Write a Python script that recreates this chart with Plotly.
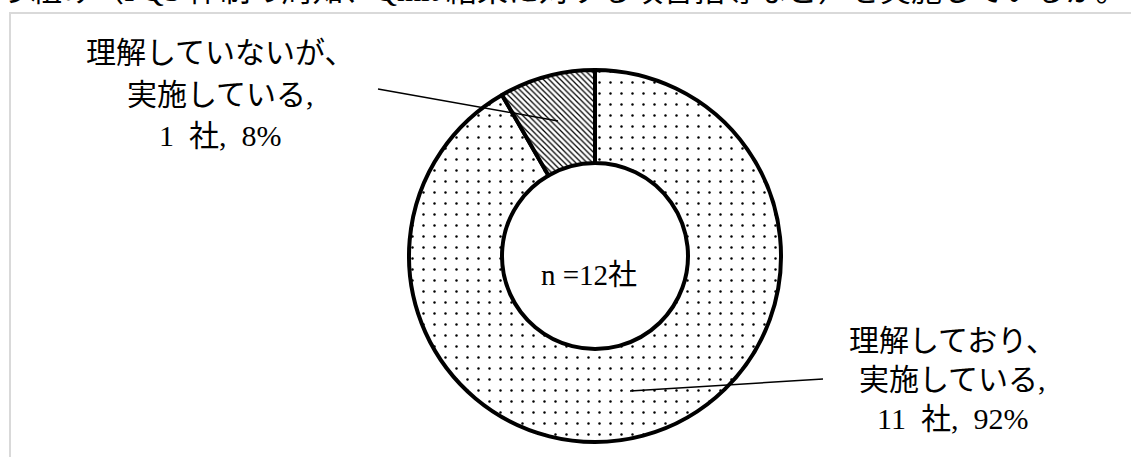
import plotly.graph_objects as go

# ---- data ----
categories = ["理解しており、実施している", "理解していないが、実施している"]
companies = [11, 1]
percents = [92, 8]
label_lines = [
    ["理解しており、", "実施している,", "11  社,  92%"],
    ["理解していないが、", "実施している,", "1  社,  8%"],
]
center_text = "n =12社"
header_text = "う組み（PQS 体制の周知、Qmit 結果に対する改善指導など）を実施しているか。"
patterns = [".", "\\"]

W, H = 1131, 457
FONT = "Liberation Serif, Noto Sans CJK JP, serif"


def px(x):
    return x / W


def py(y):
    return 1 - y / H


fig = go.Figure()

cx, cy, r = 595, 256, 186
fig.add_trace(go.Pie(
    values=companies,
    labels=categories,
    sort=False,
    direction="clockwise",
    rotation=0,
    hole=0.5,
    textinfo="none",
    hoverinfo="label+value+percent",
    showlegend=False,
    marker=dict(
        colors=["white", "white"],
        line=dict(color="black", width=4),
        pattern=dict(shape=patterns, fgcolor="black", bgcolor="white",
                     size=[11, 4], solidity=[0.04, 0.32]),
    ),
    domain=dict(x=[px(cx - r), px(cx + r)], y=[py(cy + r), py(cy - r)]),
))

annotations = []
# outer labels (one annotation per line for spacing control)
label_pos = [(952, [340, 379, 418]), (220, [52, 94, 136])]
for lines, (lx, ys) in zip(label_lines, label_pos):
    for t, yy in zip(lines, ys):
        annotations.append(dict(
            text=t, x=px(lx), y=py(yy), xref="paper", yref="paper",
            xanchor="center", yanchor="middle", showarrow=False,
            font=dict(family=FONT, size=30, color="black"),
        ))

annotations.append(dict(
    text=center_text, x=px(cx - 6), y=py(275), xref="paper", yref="paper",
    xanchor="center", yanchor="middle", showarrow=False,
    font=dict(family=FONT, size=29, color="black"),
))

annotations.append(dict(
    text=header_text, x=px(-2), y=py(-10), xref="paper", yref="paper",
    xanchor="left", yanchor="middle", showarrow=False,
    font=dict(family=FONT, size=31, color="black"),
))

shapes = [
    # frame
    dict(type="rect", xref="paper", yref="paper",
         x0=px(10), x1=px(W + 10), y0=py(H + 10), y1=py(13),
         line=dict(color="#d9d9d9", width=2), fillcolor="rgba(0,0,0,0)",
         layer="below"),
    # leader lines
    dict(type="line", xref="paper", yref="paper",
         x0=px(378), y0=py(89), x1=px(558), y1=py(121),
         line=dict(color="black", width=1.5)),
    dict(type="line", xref="paper", yref="paper",
         x0=px(630), y0=py(391), x1=px(823), y1=py(379),
         line=dict(color="black", width=1.5)),
]

fig.update_layout(
    width=W, height=H,
    margin=dict(l=0, r=0, t=0, b=0),
    paper_bgcolor="white", plot_bgcolor="white",
    annotations=annotations,
    shapes=shapes,
)

fig.write_html("out.html",
               config={"displayModeBar": False},
               post_script="document.body.style.margin='0';"
                           "document.body.style.overflow='hidden';")
